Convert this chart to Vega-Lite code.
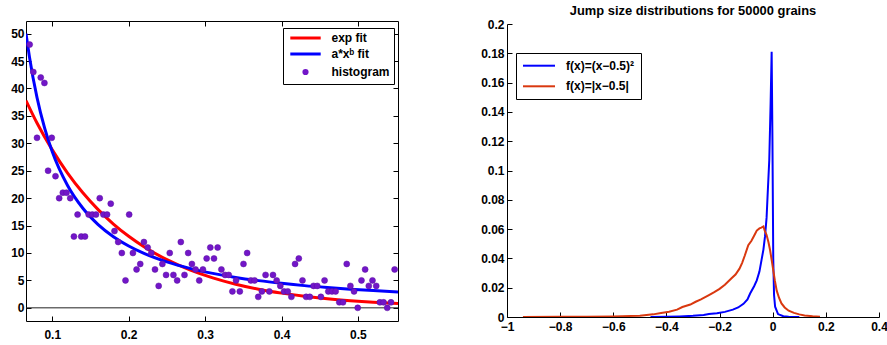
{
  "$schema": "https://vega.github.io/schema/vega-lite/v6.json",
  "background": "white",
  "autosize": {"type": "pad"},
  "padding": {"left": 10, "top": 5, "right": 0, "bottom": 0},
  "bounds": "flush",
  "spacing": 109,
  "config": {
    "view": {"stroke": null},
    "font": "Liberation Sans",
    "axis": {
      "grid": false,
      "title": null,
      "labelFont": "Liberation Sans",
      "labelFontSize": 12,
      "labelFontWeight": "bold",
      "labelColor": "black",
      "domainColor": "black",
      "domainWidth": 1,
      "tickColor": "black",
      "tickWidth": 1,
      "tickSize": -5,
      "labelFlush": false,
      "labelOverlap": false,
      "labelBound": false
    },
    "legend": {
      "labelFont": "Liberation Sans",
      "labelFontSize": 12,
      "labelFontWeight": "bold",
      "labelColor": "black",
      "strokeColor": "black",
      "fillColor": "white",
      "cornerRadius": 0
    }
  },
  "resolve": {"scale": {"color": "independent"}, "legend": {"color": "independent"}},
  "datasets": {
    "hist": [
      {"x": 0.0704, "count": 48}, {"x": 0.0752, "count": 43}, {"x": 0.0800, "count": 31}, {"x": 0.0849, "count": 42}, {"x": 0.0897, "count": 41},
      {"x": 0.0945, "count": 25}, {"x": 0.0993, "count": 31}, {"x": 0.1042, "count": 24}, {"x": 0.1090, "count": 20}, {"x": 0.1138, "count": 21},
      {"x": 0.1186, "count": 21}, {"x": 0.1235, "count": 20}, {"x": 0.1283, "count": 13}, {"x": 0.1331, "count": 17}, {"x": 0.1379, "count": 13},
      {"x": 0.1428, "count": 13}, {"x": 0.1476, "count": 17}, {"x": 0.1524, "count": 17}, {"x": 0.1572, "count": 17}, {"x": 0.1621, "count": 20},
      {"x": 0.1669, "count": 17}, {"x": 0.1717, "count": 17}, {"x": 0.1765, "count": 19}, {"x": 0.1814, "count": 14}, {"x": 0.1862, "count": 12},
      {"x": 0.1910, "count": 10}, {"x": 0.1958, "count": 5}, {"x": 0.2006, "count": 17}, {"x": 0.2055, "count": 10}, {"x": 0.2103, "count": 7},
      {"x": 0.2151, "count": 8}, {"x": 0.2199, "count": 12}, {"x": 0.2248, "count": 11}, {"x": 0.2296, "count": 10}, {"x": 0.2344, "count": 7},
      {"x": 0.2392, "count": 4}, {"x": 0.2441, "count": 8}, {"x": 0.2489, "count": 6}, {"x": 0.2537, "count": 10}, {"x": 0.2585, "count": 6},
      {"x": 0.2634, "count": 5}, {"x": 0.2682, "count": 12}, {"x": 0.2730, "count": 6}, {"x": 0.2778, "count": 10}, {"x": 0.2827, "count": 8},
      {"x": 0.2875, "count": 7}, {"x": 0.2923, "count": 5}, {"x": 0.2971, "count": 7}, {"x": 0.3020, "count": 9}, {"x": 0.3068, "count": 11},
      {"x": 0.3116, "count": 9}, {"x": 0.3164, "count": 11}, {"x": 0.3213, "count": 7}, {"x": 0.3261, "count": 6}, {"x": 0.3309, "count": 6},
      {"x": 0.3357, "count": 3}, {"x": 0.3405, "count": 5}, {"x": 0.3454, "count": 3}, {"x": 0.3502, "count": 8}, {"x": 0.3550, "count": 10},
      {"x": 0.3598, "count": 5}, {"x": 0.3647, "count": 5}, {"x": 0.3695, "count": 2}, {"x": 0.3743, "count": 3}, {"x": 0.3791, "count": 6},
      {"x": 0.3840, "count": 3}, {"x": 0.3888, "count": 6}, {"x": 0.3936, "count": 5}, {"x": 0.3984, "count": 4}, {"x": 0.4033, "count": 3},
      {"x": 0.4081, "count": 3}, {"x": 0.4129, "count": 2}, {"x": 0.4177, "count": 8}, {"x": 0.4226, "count": 9}, {"x": 0.4274, "count": 5},
      {"x": 0.4322, "count": 2}, {"x": 0.4370, "count": 2}, {"x": 0.4419, "count": 4}, {"x": 0.4467, "count": 4}, {"x": 0.4515, "count": 2},
      {"x": 0.4563, "count": 5}, {"x": 0.4612, "count": 3}, {"x": 0.4660, "count": 3}, {"x": 0.4708, "count": 3}, {"x": 0.4756, "count": 1},
      {"x": 0.4804, "count": 1}, {"x": 0.4853, "count": 8}, {"x": 0.4901, "count": 4}, {"x": 0.4949, "count": 3}, {"x": 0.4997, "count": 0},
      {"x": 0.5046, "count": 5}, {"x": 0.5094, "count": 7}, {"x": 0.5142, "count": 4}, {"x": 0.5190, "count": 5}, {"x": 0.5239, "count": 4},
      {"x": 0.5287, "count": 1}, {"x": 0.5335, "count": 1}, {"x": 0.5383, "count": 0}, {"x": 0.5432, "count": 1}, {"x": 0.5480, "count": 7}
    ],
    "fits": [
      {"series": "exp fit", "x": 0.0656, "y": 37.8}, {"series": "exp fit", "x": 0.08, "y": 33.7}, {"series": "exp fit", "x": 0.1, "y": 28.8},
      {"series": "exp fit", "x": 0.12, "y": 24.57}, {"series": "exp fit", "x": 0.14, "y": 20.97}, {"series": "exp fit", "x": 0.16, "y": 17.9},
      {"series": "exp fit", "x": 0.18, "y": 15.28}, {"series": "exp fit", "x": 0.2, "y": 13.04}, {"series": "exp fit", "x": 0.22, "y": 11.13},
      {"series": "exp fit", "x": 0.25, "y": 8.78}, {"series": "exp fit", "x": 0.28, "y": 6.92}, {"series": "exp fit", "x": 0.31, "y": 5.46},
      {"series": "exp fit", "x": 0.34, "y": 4.3}, {"series": "exp fit", "x": 0.37, "y": 3.39}, {"series": "exp fit", "x": 0.4, "y": 2.68},
      {"series": "exp fit", "x": 0.43, "y": 2.11}, {"series": "exp fit", "x": 0.46, "y": 1.66}, {"series": "exp fit", "x": 0.49, "y": 1.31},
      {"series": "exp fit", "x": 0.52, "y": 1.03}, {"series": "exp fit", "x": 0.5524, "y": 0.8},
      {"series": "a*xᵇ fit", "x": 0.0656, "y": 50.0}, {"series": "a*xᵇ fit", "x": 0.07, "y": 45.85}, {"series": "a*xᵇ fit", "x": 0.08, "y": 38.35},
      {"series": "a*xᵇ fit", "x": 0.09, "y": 32.77}, {"series": "a*xᵇ fit", "x": 0.1, "y": 28.46}, {"series": "a*xᵇ fit", "x": 0.12, "y": 22.31},
      {"series": "a*xᵇ fit", "x": 0.14, "y": 18.16}, {"series": "a*xᵇ fit", "x": 0.16, "y": 15.19}, {"series": "a*xᵇ fit", "x": 0.18, "y": 12.98},
      {"series": "a*xᵇ fit", "x": 0.2, "y": 11.28}, {"series": "a*xᵇ fit", "x": 0.22, "y": 9.93}, {"series": "a*xᵇ fit", "x": 0.25, "y": 8.37},
      {"series": "a*xᵇ fit", "x": 0.28, "y": 7.19}, {"series": "a*xᵇ fit", "x": 0.31, "y": 6.28}, {"series": "a*xᵇ fit", "x": 0.34, "y": 5.55},
      {"series": "a*xᵇ fit", "x": 0.37, "y": 4.96}, {"series": "a*xᵇ fit", "x": 0.4, "y": 4.47}, {"series": "a*xᵇ fit", "x": 0.43, "y": 4.05},
      {"series": "a*xᵇ fit", "x": 0.46, "y": 3.71}, {"series": "a*xᵇ fit", "x": 0.49, "y": 3.41}, {"series": "a*xᵇ fit", "x": 0.52, "y": 3.15},
      {"series": "a*xᵇ fit", "x": 0.5524, "y": 2.9}
    ],
    "zero": [{"y": 0}],
    "jumps": [
      {"series": "f(x)=(x−0.5)²", "x": -0.46, "y": 0}, {"series": "f(x)=(x−0.5)²", "x": -0.40, "y": 0.0002},
      {"series": "f(x)=(x−0.5)²", "x": -0.35, "y": 0.0004}, {"series": "f(x)=(x−0.5)²", "x": -0.30, "y": 0.0008},
      {"series": "f(x)=(x−0.5)²", "x": -0.26, "y": 0.0013}, {"series": "f(x)=(x−0.5)²", "x": -0.24, "y": 0.002},
      {"series": "f(x)=(x−0.5)²", "x": -0.21, "y": 0.0025}, {"series": "f(x)=(x−0.5)²", "x": -0.18, "y": 0.0035},
      {"series": "f(x)=(x−0.5)²", "x": -0.15, "y": 0.005}, {"series": "f(x)=(x−0.5)²", "x": -0.13, "y": 0.0065},
      {"series": "f(x)=(x−0.5)²", "x": -0.11, "y": 0.009}, {"series": "f(x)=(x−0.5)²", "x": -0.095, "y": 0.012},
      {"series": "f(x)=(x−0.5)²", "x": -0.085, "y": 0.016}, {"series": "f(x)=(x−0.5)²", "x": -0.07, "y": 0.021},
      {"series": "f(x)=(x−0.5)²", "x": -0.06, "y": 0.025}, {"series": "f(x)=(x−0.5)²", "x": -0.05, "y": 0.031},
      {"series": "f(x)=(x−0.5)²", "x": -0.042, "y": 0.039}, {"series": "f(x)=(x−0.5)²", "x": -0.035, "y": 0.046},
      {"series": "f(x)=(x−0.5)²", "x": -0.029, "y": 0.055}, {"series": "f(x)=(x−0.5)²", "x": -0.023, "y": 0.068},
      {"series": "f(x)=(x−0.5)²", "x": -0.019, "y": 0.084}, {"series": "f(x)=(x−0.5)²", "x": -0.013, "y": 0.107},
      {"series": "f(x)=(x−0.5)²", "x": -0.008, "y": 0.145}, {"series": "f(x)=(x−0.5)²", "x": -0.004, "y": 0.181},
      {"series": "f(x)=(x−0.5)²", "x": -0.001, "y": 0.12}, {"series": "f(x)=(x−0.5)²", "x": 0.002, "y": 0.04},
      {"series": "f(x)=(x−0.5)²", "x": 0.005, "y": 0.015}, {"series": "f(x)=(x−0.5)²", "x": 0.009, "y": 0.007},
      {"series": "f(x)=(x−0.5)²", "x": 0.02, "y": 0.002}, {"series": "f(x)=(x−0.5)²", "x": 0.04, "y": 0.0005},
      {"series": "f(x)=(x−0.5)²", "x": 0.06, "y": 0.0002}, {"series": "f(x)=(x−0.5)²", "x": 0.1, "y": 0},
      {"series": "f(x)=|x−0.5|", "x": -0.94, "y": 0}, {"series": "f(x)=|x−0.5|", "x": -0.8, "y": 0.0001},
      {"series": "f(x)=|x−0.5|", "x": -0.7, "y": 0.0002}, {"series": "f(x)=|x−0.5|", "x": -0.6, "y": 0.0004},
      {"series": "f(x)=|x−0.5|", "x": -0.5, "y": 0.0009}, {"series": "f(x)=|x−0.5|", "x": -0.45, "y": 0.0018},
      {"series": "f(x)=|x−0.5|", "x": -0.42, "y": 0.0027}, {"series": "f(x)=|x−0.5|", "x": -0.39, "y": 0.0036},
      {"series": "f(x)=|x−0.5|", "x": -0.36, "y": 0.005}, {"series": "f(x)=|x−0.5|", "x": -0.34, "y": 0.0068},
      {"series": "f(x)=|x−0.5|", "x": -0.31, "y": 0.0085}, {"series": "f(x)=|x−0.5|", "x": -0.29, "y": 0.0104},
      {"series": "f(x)=|x−0.5|", "x": -0.27, "y": 0.012}, {"series": "f(x)=|x−0.5|", "x": -0.24, "y": 0.015},
      {"series": "f(x)=|x−0.5|", "x": -0.22, "y": 0.017}, {"series": "f(x)=|x−0.5|", "x": -0.2, "y": 0.0192},
      {"series": "f(x)=|x−0.5|", "x": -0.18, "y": 0.022}, {"series": "f(x)=|x−0.5|", "x": -0.155, "y": 0.0264},
      {"series": "f(x)=|x−0.5|", "x": -0.14, "y": 0.029}, {"series": "f(x)=|x−0.5|", "x": -0.125, "y": 0.033},
      {"series": "f(x)=|x−0.5|", "x": -0.115, "y": 0.037}, {"series": "f(x)=|x−0.5|", "x": -0.105, "y": 0.042},
      {"series": "f(x)=|x−0.5|", "x": -0.092, "y": 0.049}, {"series": "f(x)=|x−0.5|", "x": -0.08, "y": 0.052},
      {"series": "f(x)=|x−0.5|", "x": -0.07, "y": 0.0555}, {"series": "f(x)=|x−0.5|", "x": -0.06, "y": 0.059},
      {"series": "f(x)=|x−0.5|", "x": -0.05, "y": 0.0605}, {"series": "f(x)=|x−0.5|", "x": -0.043, "y": 0.061},
      {"series": "f(x)=|x−0.5|", "x": -0.035, "y": 0.0618}, {"series": "f(x)=|x−0.5|", "x": -0.03, "y": 0.059},
      {"series": "f(x)=|x−0.5|", "x": -0.023, "y": 0.056}, {"series": "f(x)=|x−0.5|", "x": -0.016, "y": 0.051},
      {"series": "f(x)=|x−0.5|", "x": -0.01, "y": 0.0457}, {"series": "f(x)=|x−0.5|", "x": -0.004, "y": 0.039},
      {"series": "f(x)=|x−0.5|", "x": 0.002, "y": 0.032}, {"series": "f(x)=|x−0.5|", "x": 0.008, "y": 0.025},
      {"series": "f(x)=|x−0.5|", "x": 0.015, "y": 0.018}, {"series": "f(x)=|x−0.5|", "x": 0.024, "y": 0.013},
      {"series": "f(x)=|x−0.5|", "x": 0.033, "y": 0.0093}, {"series": "f(x)=|x−0.5|", "x": 0.045, "y": 0.0065},
      {"series": "f(x)=|x−0.5|", "x": 0.06, "y": 0.0043}, {"series": "f(x)=|x−0.5|", "x": 0.08, "y": 0.0028},
      {"series": "f(x)=|x−0.5|", "x": 0.1, "y": 0.0018}, {"series": "f(x)=|x−0.5|", "x": 0.12, "y": 0.0011},
      {"series": "f(x)=|x−0.5|", "x": 0.15, "y": 0.0005}, {"series": "f(x)=|x−0.5|", "x": 0.178, "y": 0.0001}
    ]
  },
  "hconcat": [
    {
      "width": 372,
      "height": 300,
      "layer": [
        {
          "data": {"name": "zero"},
          "mark": {"type": "rule", "color": "#222222", "strokeWidth": 1},
          "encoding": {
            "y": {"field": "y", "type": "quantitative", "scale": {"domain": [-2.4, 52.3], "nice": false, "zero": false}, "axis": null}
          }
        },
        {
          "data": {"name": "fits"},
          "transform": [{"filter": "datum.series === 'exp fit'"}],
          "mark": {"type": "line", "strokeWidth": 3, "clip": true, "interpolate": "monotone"},
          "encoding": {
            "x": {"field": "x", "type": "quantitative", "scale": {"domain": [0.0656, 0.5524], "nice": false, "zero": false},
                  "axis": {"orient": "top", "values": [0.1, 0.2, 0.3, 0.4, 0.5], "labels": false}},
            "y": {"field": "y", "type": "quantitative",
                  "axis": {"orient": "right", "values": [0, 5, 10, 15, 20, 25, 30, 35, 40, 45, 50], "labels": false}},
            "color": {"field": "series", "type": "nominal",
                      "scale": {"domain": ["exp fit", "a*xᵇ fit", "histogram"], "range": ["#ff0000", "#0000ff", "#7216c8"]},
                      "legend": {
                        "title": null, "orient": "none", "legendX": 257, "legendY": 7,
                        "padding": 4, "labelOffset": 20, "symbolOffset": 12.5, "rowPadding": 4,
                        "symbolSize": 64, "symbolStrokeWidth": 3, "symbolType": "M-3.8,0H3.8",
                        "encode": {
                          "symbols": {
                            "update": {
                              "shape": {"signal": "datum.value === 'histogram' ? 'M-0.4,0A0.4,0.4,0,1,1,0.4,0A0.4,0.4,0,1,1,-0.4,0Z' : 'M-3.8,0H3.8'"},
                              "fill": {"signal": "datum.value === 'histogram' ? '#7216c8' : 'transparent'"},
                              "stroke": {"signal": "datum.value === 'histogram' ? '#7216c8' : (datum.value === 'exp fit' ? '#ff0000' : '#0000ff')"},
                              "opacity": {"value": 1}
                            }
                          }
                        }
                      }}
          }
        },
        {
          "data": {"name": "fits"},
          "transform": [{"filter": "datum.series !== 'exp fit'"}],
          "mark": {"type": "line", "strokeWidth": 3, "clip": true, "interpolate": "monotone"},
          "encoding": {
            "x": {"field": "x", "type": "quantitative", "axis": null},
            "y": {"field": "y", "type": "quantitative", "axis": null},
            "color": {"field": "series", "type": "nominal"}
          }
        },
        {
          "data": {"name": "hist"},
          "mark": {"type": "point", "filled": true, "size": 36, "opacity": 1, "stroke": "#5a10a0", "strokeWidth": 0.5},
          "encoding": {
            "x": {"field": "x", "type": "quantitative",
                  "axis": {"orient": "bottom", "values": [0.1, 0.2, 0.3, 0.4, 0.5], "format": ".1f", "labelPadding": 13}},
            "y": {"field": "count", "type": "quantitative",
                  "axis": {"orient": "left", "values": [0, 5, 10, 15, 20, 25, 30, 35, 40, 45, 50], "labelPadding": 7}},
            "color": {"datum": "histogram", "type": "nominal"}
          }
        }
      ],
      "resolve": {"axis": {"x": "independent", "y": "independent"}}
    },
    {
      "width": 372,
      "height": 296,
      "title": {"text": "Jump size distributions for 50000 grains", "fontSize": 12.9, "fontWeight": "bold", "font": "Liberation Sans", "color": "black", "anchor": "middle", "frame": "group", "offset": 0},
      "data": {"name": "jumps"},
      "mark": {"type": "line", "strokeWidth": 2, "clip": true},
      "encoding": {
        "x": {"field": "x", "type": "quantitative", "scale": {"domain": [-1, 0.4], "nice": false, "zero": false},
              "axis": {"values": [-1, -0.8, -0.6, -0.4, -0.2, 0, 0.2, 0.4], "labelExpr": "format(datum.value, '~g')", "labelPadding": 9}},
        "y": {"field": "y", "type": "quantitative", "scale": {"domain": [0, 0.2], "nice": false, "zero": false, "range": [296, 3]},
              "axis": {"values": [0, 0.02, 0.04, 0.06, 0.08, 0.1, 0.12, 0.14, 0.16, 0.18, 0.2], "labelExpr": "format(datum.value, '~g')", "labelPadding": 8}},
        "color": {"field": "series", "type": "nominal", "sort": null,
                  "scale": {"domain": ["f(x)=(x−0.5)²", "f(x)=|x−0.5|"], "range": ["#0000ff", "#d9380f"]},
                  "legend": {"title": null, "orient": "none", "legendX": 9, "legendY": 32, "padding": 6.7,
                             "labelOffset": 21, "symbolOffset": 10.3, "rowPadding": 8.6,
                             "symbolType": "M-4,0H4", "symbolSize": 64, "symbolStrokeWidth": 2}}
      }
    }
  ]
}
